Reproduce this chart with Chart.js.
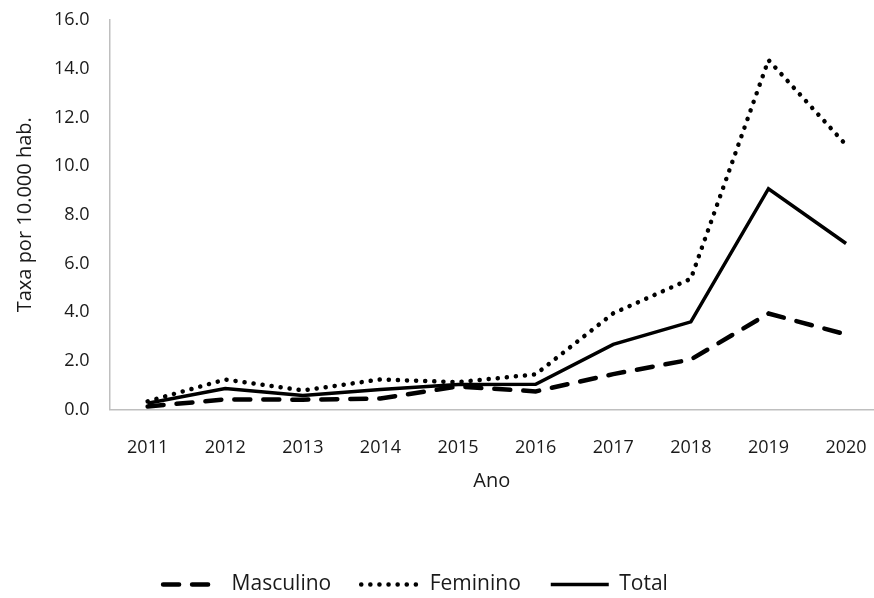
<!DOCTYPE html>
<html>
  <head>
    <title>Taxa por 10.000 hab.</title>
    <script src="https://cdn.jsdelivr.net/npm/chart.js@4"></script>
    <style>
      html, body { margin: 0; padding: 0; background: #fff; }
      #wrap { width: 874px; height: 598px; }
    </style>
  </head>
  <body>
    <div id="wrap"><canvas id="canvas"></canvas></div>
    <script>
      const years = [2011, 2012, 2013, 2014, 2015, 2016, 2017, 2018, 2019, 2020];
      const masculino = [0.12, 0.41, 0.40, 0.45, 0.94, 0.74, 1.45, 2.05, 3.94, 3.08];
      const feminino = [0.33, 1.23, 0.78, 1.23, 1.12, 1.44, 3.95, 5.37, 14.36, 10.87];
      const total = [0.25, 0.86, 0.57, 0.82, 1.02, 1.03, 2.67, 3.60, 9.07, 6.82];

      const font = '"Open Sans", sans-serif';
      const pts = arr => arr.map((v, i) => ({ x: years[i], y: v }));

      // legend sits a bit left of centre in the original
      const nudgeLegend = {
        id: 'nudgeLegend',
        afterLayout(chart) {
          chart.legend.left -= 28;
          chart.legend.right -= 28;
        },
      };

      new Chart(document.getElementById('canvas'), {
        type: 'line',
        plugins: [nudgeLegend],
        data: {
          datasets: [
            {
              label: 'Masculino',
              data: pts(masculino),
              borderColor: '#000',
              borderWidth: 4.5,
              borderDash: [16, 13],
              borderCapStyle: 'round',
              pointRadius: 0,
            },
            {
              label: 'Feminino',
              data: pts(feminino),
              borderColor: '#000',
              borderWidth: 4.5,
              borderDash: [0.1, 9],
              borderCapStyle: 'round',
              pointRadius: 0,
            },
            {
              label: 'Total',
              data: pts(total),
              borderColor: '#000',
              borderWidth: 3.5,
              pointRadius: 0,
            },
          ],
        },
        options: {
          responsive: true,
          maintainAspectRatio: false,
          animation: false,
          layout: { padding: { top: 0, left: 13, right: 0, bottom: -7 } },
          plugins: {
            tooltip: { enabled: false },
            legend: {
              position: 'bottom',
              labels: {
                usePointStyle: true,
                pointStyle: 'line',
                pointStyleWidth: 58,
                color: '#1a1a1a',
                font: { family: font, size: 21 },
                padding: 30,
                // the default reads dash/width from the point, not the line
                generateLabels: chart =>
                  Chart.defaults.plugins.legend.labels.generateLabels(chart).map(l => {
                    const ds = chart.data.datasets[l.datasetIndex];
                    return Object.assign(l, {
                      lineDash: ds.borderDash || [],
                      lineWidth: ds.borderWidth,
                      lineCap: ds.borderCapStyle || 'butt',
                      strokeStyle: '#000',
                      pointStyle: 'line',
                    });
                  }),
              },
            },
          },
          scales: {
            x: {
              type: 'linear',
              min: 2010.51,
              max: 2020.36,
              grid: { display: false },
              border: { color: '#bfbfbf', width: 1.5 },
              afterBuildTicks: s => { s.ticks = years.map(v => ({ value: v })); },
              // axis runs to the right edge; labels fit on their own
              afterFit: s => { s.paddingRight = 0; },
              ticks: {
                color: '#1a1a1a',
                font: { family: font, size: 18 },
                padding: 20,
                maxRotation: 0,
                autoSkip: false,
                callback: v => String(v),
              },
              title: {
                display: true,
                text: 'Ano',
                color: '#1a1a1a',
                font: { family: font, size: 20 },
                padding: { top: -10, bottom: 51 },
              },
            },
            y: {
              min: 0,
              max: 16,
              grid: { display: false },
              border: { color: '#bfbfbf', width: 1.5 },
              ticks: {
                stepSize: 2,
                color: '#1a1a1a',
                font: { family: font, size: 18, lineHeight: 0.9 },
                padding: 12,
                callback: v => v.toFixed(1),
              },
              title: {
                display: true,
                text: 'Taxa por 10.000 hab.',
                color: '#1a1a1a',
                font: { family: font, size: 20 },
                padding: { top: 0, bottom: 5 },
              },
            },
          },
        },
      });
    </script>
  </body>
</html>
